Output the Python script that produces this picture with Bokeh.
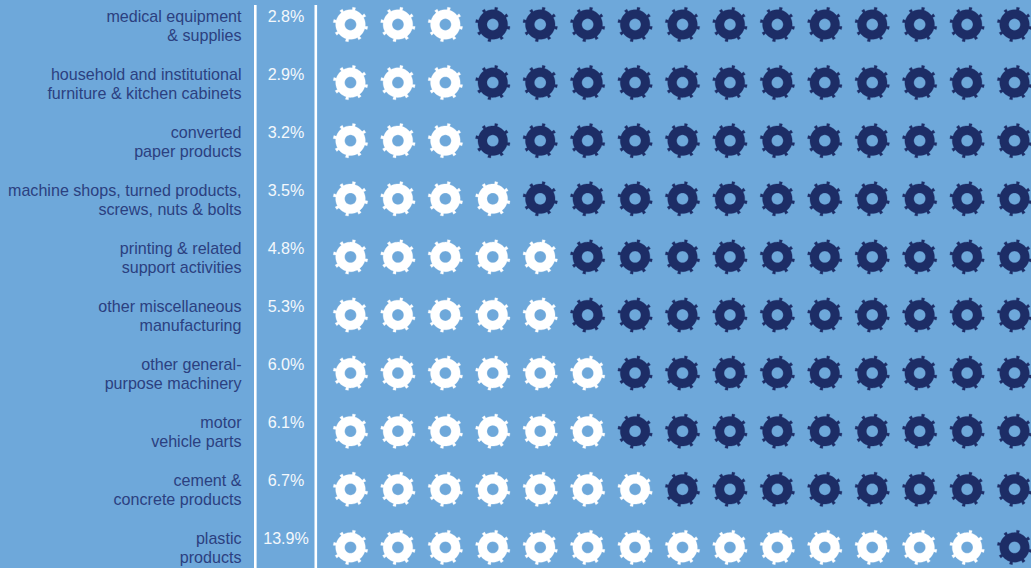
import math
from bokeh.plotting import figure
from bokeh.embed import file_html
from bokeh.resources import INLINE
from bokeh.core.properties import value
from bokeh.models import ColumnDataSource

label_top = ["medical equipment", "household and institutional", "converted",
             "machine shops, turned products,", "printing & related", "other miscellaneous",
             "other general-", "motor", "cement &", "plastic"]
label_bottom = ["& supplies", "furniture & kitchen cabinets", "paper products",
                "screws, nuts & bolts", "support activities", "manufacturing",
                "purpose machinery", "vehicle parts", "concrete products", "products"]
shares = [2.8, 2.9, 3.2, 3.5, 4.8, 5.3, 6.0, 6.1, 6.7, 13.9]
filled = [3, 3, 3, 4, 5, 5, 6, 6, 7, 14]
total_gears = 15

BG, NAVY, WHITE = "#6ea8da", "#1d2d66", "#ffffff"
W, H = 1031, 568
ROW, COL = 58.1, 47.43
X0, Y0 = 350, 24


def gear(cx, cy, body=14.8, tip=17.4, hole=5.9, teeth=8, tooth_half=5.0, phase=12.0):
    xs, ys = [], []
    for k in range(teeth):
        a = math.radians(phase + k * 360 / teeth)
        hw = math.radians(tooth_half)
        for ang, r in [(a - hw, body), (a - hw, tip), (a + hw, tip), (a + hw, body)]:
            xs.append(cx + r * math.sin(ang))
            ys.append(cy - r * math.cos(ang))
        nxt = a + math.radians(360 / teeth)
        for s in range(1, 6):
            ang = a + hw + (nxt - hw - (a + hw)) * s / 6
            xs.append(cx + body * math.sin(ang))
            ys.append(cy - body * math.cos(ang))
    hx = [cx + hole * math.cos(2 * math.pi * s / 28) for s in range(28)]
    hy = [cy + hole * math.sin(2 * math.pi * s / 28) for s in range(28)]
    return [[xs, hx]], [[ys, hy]]


gx, gy, gc = [], [], []
for r, n in enumerate(filled):
    for c in range(total_gears):
        a, b = gear(X0 + COL * c, Y0 + ROW * r)
        gx.append(a)
        gy.append(b)
        gc.append(WHITE if c < n else NAVY)

p = figure(width=W, height=H, x_range=(0, W), y_range=(H, 0), output_backend="svg",
           toolbar_location=None, min_border=0, outline_line_color=None,
           background_fill_color=BG, border_fill_color=BG)
p.axis.visible = False
p.grid.visible = False

p.multi_polygons(xs="x", ys="y", fill_color="c", line_color="c", line_width=0.3,
                 source=ColumnDataSource(dict(x=gx, y=gy, c=gc)))

for sep in (254.8, 315.3):
    p.segment(x0=[sep], y0=[4.5], x1=[sep], y1=[H], line_color=WHITE, line_width=2.6)

rows = list(range(len(shares)))
y1 = [15.4 + 58.0 * r for r in rows]
y2 = [v + 19.0 for v in y1]
for ys, txt in ((y1, label_top), (y2, label_bottom)):
    p.text(x=[241] * len(rows), y=ys, text=txt, text_align="right", text_baseline="middle",
           text_font=value("Liberation Sans"), text_font_size="16.1px", text_color="#2b4080")
p.text(x=[285.5] * len(rows), y=y1, text=[f"{s:.1f}%" for s in shares], text_align="center",
       text_baseline="middle", text_font=value("Liberation Sans"), text_font_size="16.1px",
       text_color="#f4f8fc")

html = file_html(p, INLINE).replace(
    "<head>", f"<head><style>html,body{{margin:0;padding:0;overflow:hidden;background:{BG}}}</style>", 1)
open("out.html", "w").write(html)
